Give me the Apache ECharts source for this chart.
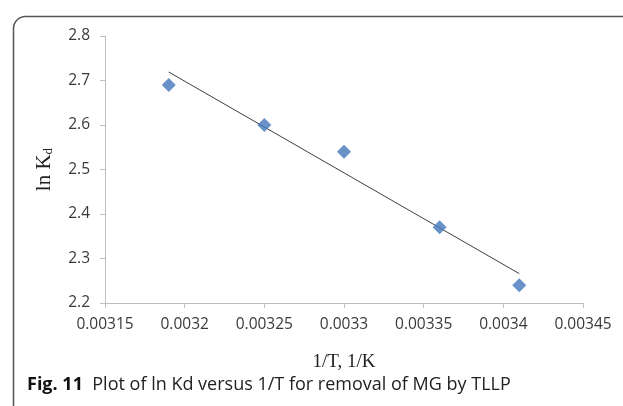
<!DOCTYPE html>
<html><head><meta charset="utf-8">
<script src="https://cdn.jsdelivr.net/npm/echarts@6/dist/echarts.min.js"></script>
<style>html,body{margin:0;padding:0;background:#fff}#c{width:623px;height:406px}</style>
</head><body><div id="c"></div>
<script>
const invT = [0.00319, 0.00325, 0.00330, 0.00336, 0.00341];
const lnKd = [2.69, 2.60, 2.54, 2.37, 2.24];
const trendX = [0.00319, 0.00341];
const trendY = [2.719, 2.266];
const xTicks = ['0.00315','0.0032','0.00325','0.0033','0.00335','0.0034','0.00345'];
const yTicks = ['2.2','2.3','2.4','2.5','2.6','2.7','2.8'];

const chart = echarts.init(document.getElementById('c'), null, {renderer:'canvas'});
const tickFont = {fontFamily:'Open Sans', fontSize:15.5, color:'#3a3a3a'};
chart.setOption({
  animation:false,
  backgroundColor:'#fff',
  grid:{left:105, right:40, top:36, bottom:103},
  xAxis:{
    type:'value', min:0.00315, max:0.00345, interval:0.00005,
    axisLine:{show:true, lineStyle:{color:'#bfbfbf', width:1}},
    axisTick:{show:true, length:5, lineStyle:{color:'#bfbfbf'}},
    splitLine:{show:false},
    axisLabel:Object.assign({margin:14, showMaxLabel:true, showMinLabel:true,
      formatter:v=>{const i=Math.round((v-0.00315)/0.00005);return xTicks[i]!==undefined?xTicks[i]:'';}}, tickFont),
    name:'1/T, 1/K', nameLocation:'middle', nameGap:50,
    nameTextStyle:{fontFamily:'Liberation Serif', fontSize:19, color:'#222'}
  },
  yAxis:{
    type:'value', min:2.2, max:2.8, interval:0.1,
    axisLine:{show:true, lineStyle:{color:'#bfbfbf', width:1}},
    axisTick:{show:true, length:5, lineStyle:{color:'#bfbfbf'}},
    splitLine:{show:false},
    axisLabel:Object.assign({margin:15,
      formatter:v=>{const i=Math.round((v-2.2)/0.1);return yTicks[i]!==undefined?yTicks[i]:'';}}, tickFont),
    name:'ln K{s|d}', nameLocation:'middle', nameGap:50, nameRotate:90,
    nameTextStyle:{fontFamily:'Liberation Serif', fontSize:21, color:'#222',
      rich:{s:{fontFamily:'Liberation Serif', fontSize:13, color:'#222', verticalAlign:'bottom', padding:[9,0,0,0]}}}
  },
  series:[
    {type:'line', data:trendX.map((x,i)=>[x,trendY[i]]), symbol:'none',
     lineStyle:{color:'#404040', width:1}, z:2},
    {type:'scatter', data:invT.map((x,i)=>[x,lnKd[i]]), symbol:'diamond', symbolSize:14,
     itemStyle:{color:'#4277ba'}, z:3}
  ],
  graphic:[
    {type:'rect', left:11, top:14, shape:{x:0,y:0,width:700,height:500,r:12},
     style:{fill:'none', stroke:'#555', lineWidth:1.5}, silent:true, z:-1},
    {type:'text', left:27, top:376, style:{rich:{b:{fontFamily:'Open Sans', fontWeight:'bold', fontSize:18, fill:'#111'}, n:{fontFamily:'Open Sans', fontSize:18, fill:'#222'}},
      text:'{b|Fig. 11}{n|  Plot of ln Kd versus 1/T for removal of MG by TLLP}'}}
  ]
});
</script></body></html>
